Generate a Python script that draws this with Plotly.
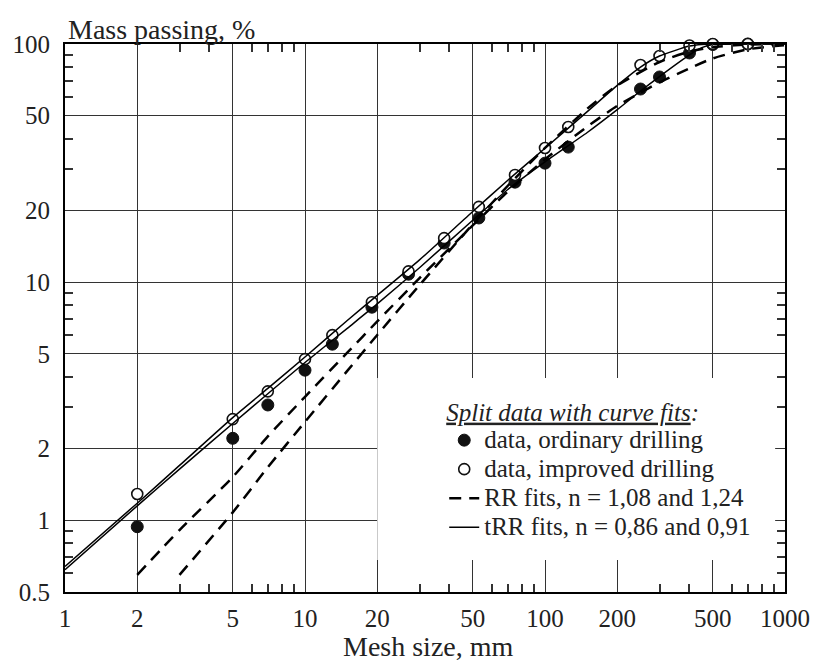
import plotly.graph_objects as go

# ---------------- data ----------------
mesh = [2, 5, 7, 10, 13, 19, 27, 38, 53, 75, 100, 125, 250, 300, 400, 500, 700]
ordinary = [0.94, 2.21, 3.05, 4.27, 5.49, 7.85, 10.8, 14.6, 18.6, 26.3, 31.6, 36.9, 64.7, 72.7, 91.7, 99.5, 100]
improved = [1.29, 2.66, 3.48, 4.75, 5.99, 8.24, 11.1, 15.3, 20.7, 28.2, 36.6, 44.8, 81.6, 89.0, 98.5, 100, 100]

rr_a_x = [2, 3, 5, 7, 10, 15, 20, 30, 50, 70, 100, 150, 200, 250, 300, 400, 500, 700, 1000]
rr_a_y = [0.59, 0.91, 1.52, 2.25, 3.30, 5.06, 6.84, 10.4, 17.3, 24.0, 32.8, 45.0, 55.0, 62.5, 69.0, 79.0, 87.0, 95.0, 99.0]
rr_b_x = [3, 5, 7, 10, 15, 20, 30, 50, 70, 100, 150, 200, 300, 400, 500, 700, 1000]
rr_b_y = [0.59, 1.08, 1.67, 2.59, 4.24, 6.00, 9.72, 17.5, 25.4, 36.6, 53.5, 67.0, 84.0, 93.0, 97.0, 99.4, 99.96]

trr_x = [1, 2, 3, 5, 7, 10, 15, 20, 30, 50, 70, 100, 150, 200, 250, 300, 400, 450, 500, 700, 1000]
trr_imp_y = [0.64, 1.18, 1.70, 2.70, 3.58, 4.85, 6.9, 8.8, 12.4, 19.8, 26.8, 36.5, 52, 67, 80, 89, 98, 99.6, 100, 100, 100]
trr_ord_y = [0.62, 1.15, 1.64, 2.55, 3.40, 4.60, 6.4, 8.1, 11.5, 18.2, 24.5, 32.0, 42.5, 53, 63.5, 73, 90, 96.5, 99.5, 100, 100]

x_ticks = [1, 2, 5, 10, 20, 50, 100, 200, 500, 1000]
x_tick_text = ["1", "2", "5", "10", "20", "50", "100", "200", "500", "1000"]
x_minor = [3, 4, 6, 7, 8, 9, 30, 40, 60, 70, 80, 90, 300, 400, 600, 700, 800, 900]
y_ticks = [0.5, 1, 2, 5, 10, 20, 50, 100]
y_tick_text = ["0.5", "1", "2", "5", "10", "20", "50", "100"]
y_minor = [0.6, 0.7, 0.8, 0.9, 3, 4, 6, 7, 8, 9, 30, 40, 60, 70, 80, 90]

FONT = "Liberation Serif, Times New Roman, serif"
X_RANGE = [0, 3]
Y_RANGE = [-0.30103, 2]


def big(s):
    return '<span style="font-size:25px">' + s + '</span>'


fig = go.Figure()

dash_style = dict(color="black", width=2.5, dash="12px,8px")
solid_style = dict(color="black", width=1.5)

# empty helper trace so that the minor-tick overlay axes get drawn
fig.add_trace(go.Scatter(x=[None], y=[None], xaxis="x2", yaxis="y2", mode="markers",
                         showlegend=False, hoverinfo="skip"))

fig.add_trace(go.Scatter(x=mesh, y=ordinary, mode="markers", name=big("data, ordinary drilling"),
                         marker=dict(symbol="circle", size=12, color="#111", line=dict(color="#111", width=1)),
                         cliponaxis=False, legendgroup="ord"))
fig.add_trace(go.Scatter(x=mesh, y=improved, mode="markers", name=big("data, improved drilling"),
                         marker=dict(symbol="circle", size=11, color="white", line=dict(color="#111", width=1.6)),
                         cliponaxis=False, legendgroup="imp"))
fig.add_trace(go.Scatter(x=rr_a_x, y=rr_a_y, mode="lines", name=big("RR fits, n = 1,08 and 1,24"),
                         line=dict(shape="spline", smoothing=0.6, **dash_style), legendgroup="rr"))
fig.add_trace(go.Scatter(x=rr_b_x, y=rr_b_y, mode="lines", name="RR fit, n = 1,24", showlegend=False,
                         line=dict(shape="spline", smoothing=0.6, **dash_style), legendgroup="rr"))
fig.add_trace(go.Scatter(x=trr_x, y=trr_ord_y, mode="lines", name=big("tRR fits, n = 0,86 and 0,91"),
                         line=dict(shape="spline", smoothing=0.6, **solid_style), legendgroup="trr"))
fig.add_trace(go.Scatter(x=trr_x, y=trr_imp_y, mode="lines", name="tRR fit, n = 0,91", showlegend=False,
                         line=dict(shape="spline", smoothing=0.6, **solid_style), legendgroup="trr"))

axis_common = dict(
    type="log",
    showline=True, linecolor="black", linewidth=2, mirror="ticks",
    showgrid=True, gridcolor="#333", gridwidth=1.3,
    ticks="inside", ticklen=3, tickcolor="#333",
    tickfont=dict(family=FONT, size=25, color="#222"),
    zeroline=False,
)

minor_axis = dict(
    type="log", showline=True, linecolor="black", linewidth=2, mirror="ticks",
    showgrid=False, zeroline=False, showticklabels=False,
    ticks="inside", ticklen=8, tickwidth=1.5, tickcolor="#333", tickmode="array",
)

fig.update_layout(
    width=822, height=662,
    margin=dict(l=62, r=29, t=44, b=70),
    paper_bgcolor="white", plot_bgcolor="white",
    font=dict(family=FONT, color="#222"),
    showlegend=True,
    xaxis=dict(range=X_RANGE, tickmode="array", tickvals=x_ticks, ticktext=x_tick_text,
               ticklabelstandoff=3, **axis_common),
    yaxis=dict(range=Y_RANGE, tickmode="array", tickvals=y_ticks, ticktext=y_tick_text,
               ticklabelstandoff=8, **axis_common),
    xaxis2=dict(range=X_RANGE, tickvals=x_minor, overlaying="x", anchor="y2", side="bottom", **minor_axis),
    yaxis2=dict(range=Y_RANGE, tickvals=y_minor, overlaying="y", anchor="x2", side="left", **minor_axis),
    legend=dict(
        x=0.5267, y=0.372, xanchor="left", yanchor="top",
        bgcolor="rgba(255,255,255,0)", borderwidth=0,
        font=dict(family=FONT, size=20, color="#222"),
        title=dict(text="<i><u>Split data with curve fits</u>:</i>", side="top",
                   font=dict(family=FONT, size=25, color="#222")),
        tracegroupgap=0,
    ),
    shapes=[dict(type="rect", xref="paper", yref="paper", x0=0.4337, x1=0.9863, y0=0.0584, y1=0.3905,
                 fillcolor="white", line=dict(width=0), layer="above")],
    annotations=[
        dict(text="Mass passing, %", xref="paper", yref="paper", x=0, y=1, xanchor="left", yanchor="bottom",
             xshift=1, yshift=-3, showarrow=False, font=dict(family=FONT, size=28, color="#222")),
        dict(text="Mesh size, mm", xref="paper", yref="paper", x=0.505, y=0, xanchor="center", yanchor="top",
             yshift=-37, showarrow=False, font=dict(family=FONT, size=28, color="#222")),
    ],
)

fig.write_html("out.html")
